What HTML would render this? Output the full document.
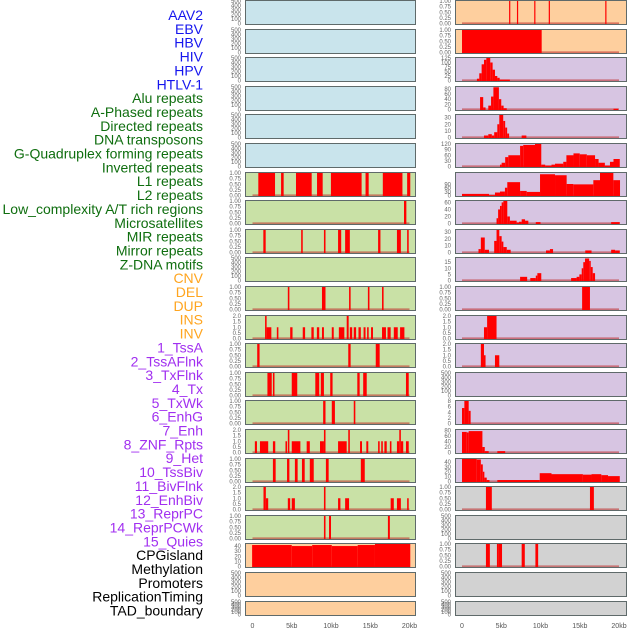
<!DOCTYPE html>
<html><head><meta charset="utf-8">
<style>
html,body{margin:0;padding:0;background:#fff;}
svg{display:block;font-family:"Liberation Sans",sans-serif;}
</style></head>
<body>
<svg id="chart" width="630" height="630" viewBox="0 0 630 630" xmlns="http://www.w3.org/2000/svg"></svg>
<script>
// ---- data ----
const labelNames = ["AAV2","EBV","HBV","HIV","HPV","HTLV-1","Alu repeats","A-Phased repeats","Directed repeats","DNA transposons","G-Quadruplex forming repeats","Inverted repeats","L1 repeats","L2 repeats","Low_complexity A/T rich regions","Microsatellites","MIR repeats","Mirror repeats","Z-DNA motifs","CNV","DEL","DUP","INS","INV","1_TssA","2_TssAFlnk","3_TxFlnk","4_Tx","5_TxWk","6_EnhG","7_Enh","8_ZNF_Rpts","9_Het","10_TssBiv","11_BivFlnk","12_EnhBiv","13_ReprPC","14_ReprPCWk","15_Quies","CPGisland","Methylation","Promoters","ReplicationTiming","TAD_boundary"];
const labelGroups = ["v","v","v","v","v","v","r","r","r","r","r","r","r","r","r","r","r","r","r","s","s","s","s","s","c","c","c","c","c","c","c","c","c","c","c","c","c","c","c","o","o","o","o","o"];
const xTickValues = [0,5,10,15,20];
const xTickLabels = ["0","5kb","10kb","15kb","20kb"];

// binary features: [startKb, endKb]
const aluSegments = [[0.74,2.87],[3.64,3.97],[5.54,7.54],[8.22,8.94],[9.99,13.9],[14.4,14.8],[16.6,19.1],[19.7,20.1]];
const aPhasedSegments = [[19.3,19.6]];
const directedSegments = [[1.38,1.68],[6.2,6.4],[9.1,9.3],[10.9,11.3],[11.8,12.4],[16.0,16.3],[18.4,18.9],[19.7,19.9]];
const gQuadSegments = [[4.5,4.7],[8.85,9.3],[12.3,12.5],[14.7,14.9],[16.5,16.7]];
const l1Segments = [[0.6,0.9],[12.2,12.5],[15.7,16.2]];
const l2Segments = [[1.9,2.45],[2.6,2.8],[5.0,5.7],[8.0,8.5],[8.7,9.1],[9.9,10.2],[13.35,13.65],[14.1,14.55],[19.55,19.9]];
const lowComplexitySegments = [[9.0,9.3],[10.1,10.5],[12.9,13.1]];
const mirSegments = [[2.6,2.95],[4.4,4.7],[5.4,5.75],[6.3,6.65],[7.3,7.8],[9.35,9.7],[13.8,14.3]];
const zdnaSegments = [[9.1,9.3],[9.75,10.0],[17.25,17.5]];
const insSegments = [[6.0,6.15],[7.0,7.12],[9.2,9.33],[11.05,11.17],[18.25,18.38]];
const invSegments = [[0.0,10.15]];
const hetSegments = [[15.3,16.3]];
const cpgSegments = [[3.05,3.8],[16.3,16.8]];
const promoterSegments = [[3.05,3.55],[4.45,4.7],[4.7,5.1],[7.6,8.0],[9.35,9.7]];

// count features: [startKb, endKb, value]
const invertedCounts = [[1.6,1.8,2],[1.8,2.4,1],[3.1,3.3,1],[4.8,5.1,1],[6.4,6.7,1],[7.5,7.8,1],[8.2,8.5,1],[8.85,9.1,1],[10.1,10.35,1],[11.0,11.7,1],[12.0,12.25,2],[12.4,12.7,1],[12.9,13.2,1],[13.5,13.8,1],[14.15,14.4,1],[14.6,14.8,1],[15.1,15.35,1],[16.5,17.0,1],[17.2,17.6,1],[18.0,18.5,1],[18.8,19.35,1]];
const microCounts = [[0.3,0.57,1],[0.95,2.0,1],[2.6,2.9,1],[4.2,4.4,1],[4.5,4.7,2],[5.0,6.1,1],[6.9,7.3,1],[8.6,9.1,1],[9.1,9.3,2],[10.9,12.0,1],[12.2,12.4,2],[13.7,13.95,1],[14.5,14.75,1],[16.0,16.2,1],[16.4,16.6,1],[16.8,17.1,1],[17.5,17.7,1],[18.4,18.7,1],[18.7,18.9,2],[18.9,19.2,1],[19.55,19.9,1]];
const mirrorCounts = [[1.4,1.7,2],[1.7,2.0,1],[4.5,4.8,1],[5.0,5.4,1],[9.1,9.3,2],[10.9,11.2,1],[11.8,12.1,1],[12.1,12.3,1],[17.6,18.0,1],[18.4,18.9,1],[19.7,19.9,1]];
const cnvCounts = [[-0.05,5.0,42],[5.0,7.6,40],[7.6,10.1,42],[10.1,13.4,40],[13.4,15.6,42],[15.6,20.1,44]];
const tssACounts = [[1.9,2.2,10],[2.2,2.5,40],[2.5,2.8,90],[2.8,3.1,115],[3.1,3.6,125],[3.6,3.9,100],[3.9,4.2,60],[4.2,4.5,25],[4.5,4.8,15],[4.8,6.1,5]];
const tssAFlnkCounts = [[2.3,2.7,48],[2.7,3.0,8],[3.35,3.7,15],[3.7,4.0,50],[4.0,4.7,86],[4.7,5.0,40],[5.0,5.3,15],[5.3,5.7,5],[19.3,19.9,3]];
const txFlnkCounts = [[2.8,3.35,3],[3.35,3.8,5],[3.8,4.1,3],[4.1,4.5,8],[4.5,4.75,20],[4.75,5.25,34],[5.25,5.5,25],[5.5,5.75,15],[5.75,6.0,6],[7.6,8.2,3]];
const txCounts = [[4.84,5.05,10],[5.05,5.5,20],[5.5,5.9,50],[5.9,7.4,60],[7.4,7.8,110],[7.8,9.3,115],[9.3,10.1,120],[10.1,10.6,10],[10.6,11.4,5],[11.4,11.85,10],[11.85,12.9,15],[12.9,13.3,25],[13.3,14.2,60],[14.2,15.0,70],[15.0,15.9,65],[15.9,16.95,60],[16.95,17.4,40],[17.4,18.2,20],[18.2,18.85,5],[18.85,19.3,25],[19.3,20.1,40]];
const txWkCounts = [[0.0,3.44,13],[3.44,4.2,3],[4.2,4.84,24],[4.84,5.47,32],[5.47,5.77,63],[5.77,7.4,108],[7.4,8.24,37],[8.24,9.94,29],[9.94,11.85,172],[11.85,13.33,164],[13.33,14.18,93],[14.18,16.73,90],[16.73,17.58,124],[17.58,19.28,182],[19.28,20.13,124]];
const enhGCounts = [[4.4,4.6,15],[4.6,4.84,40],[4.84,5.05,50],[5.05,5.27,60],[5.27,5.77,64],[5.77,6.1,20],[6.1,6.96,8],[6.96,7.26,3],[7.26,7.6,5],[7.6,8.03,12],[8.03,8.45,8],[9.4,10.0,4],[19.0,20.1,4]];
const enhCounts = [[2.1,2.4,5],[2.4,2.9,22],[2.9,3.44,4],[4.1,4.4,17],[4.4,4.75,33],[4.75,5.05,24],[5.05,5.27,16],[5.27,5.7,8],[5.7,6.2,4],[10.7,11.2,3],[11.2,11.6,5],[15.7,16.5,3],[19.0,19.5,4],[19.5,20.1,3]];
const znfCounts = [[7.4,8.3,3],[8.7,9.4,2],[9.4,9.6,4],[9.6,10.1,6],[13.9,14.6,2],[14.6,14.95,3],[14.95,15.25,5],[15.25,15.45,10],[15.45,15.67,15],[15.67,16.2,18],[16.2,16.4,16],[16.4,16.65,11],[16.65,16.95,6]];
const tssBivCounts = [[2.8,3.2,1],[3.2,4.4,2]];
const bivFlnkCounts = [[2.4,2.8,2],[2.8,3.0,1],[4.2,4.75,1]];
const reprPCCounts = [[0.0,0.3,5.5],[0.3,0.85,8],[0.85,1.1,4.5]];
const reprPCWkCounts = [[0.0,0.6,75],[0.6,0.85,73],[0.85,2.6,78],[2.6,2.9,20],[2.9,3.4,5],[4.5,5.5,5]];
const quiesCounts = [[0.0,1.87,46],[1.87,2.4,45],[2.4,2.65,35],[2.65,2.85,20],[2.85,3.15,8],[3.15,3.5,3],[4.5,9.9,3],[9.9,11.4,17],[11.4,15.4,15],[15.4,16.5,14],[16.5,17.75,15],[17.75,18.6,13],[18.6,20.1,11]];

// ---- panel configuration ----
const BG = {v:"#c9e4ec", r:"#c9e1a6", s:"#fecf9e", c:"#d7c5e2", o:"#d2d2d2"};
const LABEL_COLOR = {v:"#1515ee", r:"#0f6e0f", s:"#ffa51f", c:"#a12ff0", o:"#000000"};
const T_BIN = ["0.00","0.25","0.50","0.75","1.00"];
const T_TWO = ["0.0","0.5","1.0","1.5","2.0"];
const T_EMPTY = ["0","100","200","300","400","500"];
// panel spec: [kind, data, ymax, tickValues]
const panelSpecs = {
 "Alu repeats":["bin",aluSegments],
 "A-Phased repeats":["bin",aPhasedSegments],
 "Directed repeats":["bin",directedSegments],
 "G-Quadruplex forming repeats":["bin",gQuadSegments],
 "Inverted repeats":["cnt",invertedCounts,2,T_TWO],
 "L1 repeats":["bin",l1Segments],
 "L2 repeats":["bin",l2Segments],
 "Low_complexity A/T rich regions":["bin",lowComplexitySegments],
 "Microsatellites":["cnt",microCounts,2,T_TWO],
 "MIR repeats":["bin",mirSegments],
 "Mirror repeats":["cnt",mirrorCounts,2,T_TWO],
 "Z-DNA motifs":["bin",zdnaSegments],
 "CNV":["cnt",cnvCounts,44,["0","10","20","30","40"]],
 "INS":["bin",insSegments],
 "INV":["bin",invSegments],
 "1_TssA":["cnt",tssACounts,125,["0","25","50","75","100","125"]],
 "2_TssAFlnk":["cnt",tssAFlnkCounts,87,["0","20","40","60","80"]],
 "3_TxFlnk":["cnt",txFlnkCounts,34,["0","10","20","30"]],
 "4_Tx":["cnt",txCounts,120,["0","30","60","90","120"]],
 "5_TxWk":["cnt",txWkCounts,182,["0","30","60","90"]],
 "6_EnhG":["cnt",enhGCounts,64,["0","20","40","60"]],
 "7_Enh":["cnt",enhCounts,33,["0","10","20","30"]],
 "8_ZNF_Rpts":["cnt",znfCounts,18.4,["0","5","10","15"]],
 "9_Het":["bin",hetSegments],
 "10_TssBiv":["cnt",tssBivCounts,2,T_TWO],
 "11_BivFlnk":["cnt",bivFlnkCounts,2,T_TWO],
 "13_ReprPC":["cnt",reprPCCounts,8,["0","2","4","6","8"]],
 "14_ReprPCWk":["cnt",reprPCWkCounts,82,["0","20","40","60","80"]],
 "15_Quies":["cnt",quiesCounts,46,["0","10","20","30","40"]],
 "CPGisland":["bin",cpgSegments],
 "Promoters":["bin",promoterSegments]
};

// ---- drawing ----
const NS = "http://www.w3.org/2000/svg";
const svg = document.getElementById("chart");
function mk(tag, attrs, parent){
  const e = document.createElementNS(NS, tag);
  for (const k in attrs) e.setAttribute(k, attrs[k]);
  (parent||svg).appendChild(e);
  return e;
}
function slug(s){return s.toLowerCase().replace(/[^a-z0-9]+/g,"-").replace(/^-|-$/g,"");}

// labels
labelNames.forEach((name,i)=>{
  const t = mk("text",{x:203,y:(20+i*13.85).toFixed(1),"text-anchor":"end","font-size":"14",fill:LABEL_COLOR[labelGroups[i]]});
  
  
  t.textContent = name;
});

const COLS = [{x:245,w:171,x0:252.5},{x:455,w:172,x0:462}];
const PXKB = 7.85;
labelNames.forEach((name,i)=>{
  const col = COLS[i<22?0:1];
  const row = i%22;
  const top = Math.round(row*28.6);
  const h = row===21 ? 15 : 25;
  const g = mk("g",{});
  
  
  const bg = mk("rect",{x:col.x,y:top,width:col.w,height:h,fill:BG[labelGroups[i]]},g);
  
  
  const spec = panelSpecs[name] || ["empty",[],500,T_EMPTY];
  const kind = spec[0];
  const ymax = kind==="bin" ? 1 : spec[2];
  const ticks = kind==="bin" ? T_BIN : spec[3];
  const yTop = top+1, yBot = top+h-1.5;
  const ys = v => yBot - (Math.min(v,ymax)/ymax)*(yBot-yTop);
  const xs = kb => col.x0 + kb*PXKB;
  // baseline
  if (kind!=="empty"){
    const bl = mk("line",{x1:xs(0),x2:xs(20),y1:yBot-0.3,y2:yBot-0.3,stroke:"rgba(190,40,40,0.55)","stroke-width":1.6},g);
    
    
  }
  // marks
  spec[1].forEach(d=>{
    const v = kind==="bin" ? 1 : d[2];
    const x1 = xs(d[0]), x2 = Math.max(xs(d[1]), x1+1.2);
    const yy = kind==="bin" ? top : ys(v);
    const hh = kind==="bin" ? h : (yBot+1 - yy);
    const r = mk("rect",{x:x1.toFixed(2),y:yy.toFixed(2),width:(x2-x1).toFixed(2),height:hh.toFixed(2),fill:"#ff0000"},g);
    
    
  });
  // border
  const br = mk("rect",{x:col.x+0.5,y:top+0.5,width:col.w-1,height:h-1,fill:"none",stroke:"#5f6a6a","stroke-width":1},g);
  
  
  // y ticks
  ticks.forEach(tl=>{
    const v = parseFloat(tl);
    let y = ys(v);
    if (kind==="empty" && row===21) y = yBot - (v/500)*(yBot-yTop);
    const t = mk("text",{x:col.x-4,y:(y+2).toFixed(2),"text-anchor":"end","font-size":"6",fill:"#666"},g);
    
    
    t.textContent = tl;
  });
});

// x axis tick labels
COLS.forEach((col,ci)=>{
  xTickValues.forEach((v,k)=>{
    const t = mk("text",{x:(col.x0+v*PXKB).toFixed(1),y:628,"text-anchor":"middle","font-size":"7",fill:"#555"});
    
    
    t.textContent = xTickLabels[k];
  });
});
</script>
</body></html>
